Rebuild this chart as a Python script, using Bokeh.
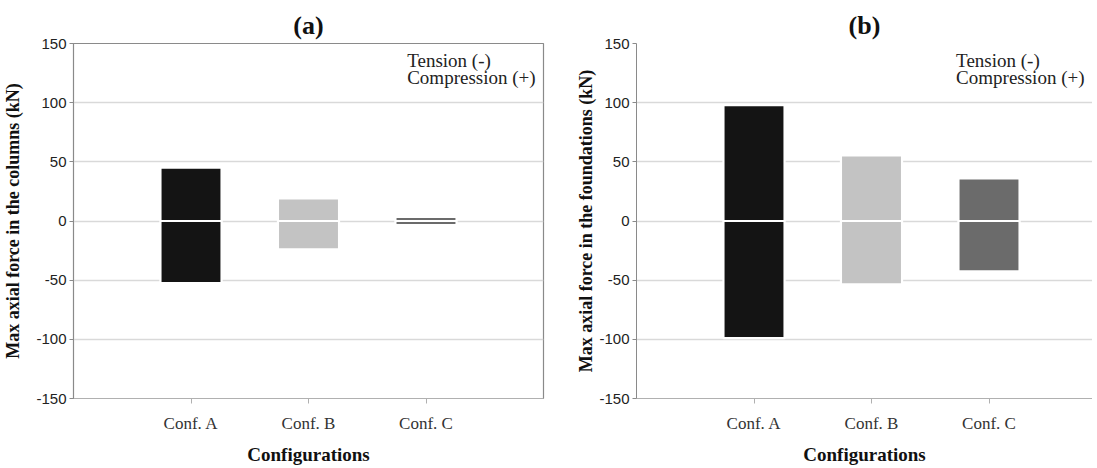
from bokeh.plotting import figure
from bokeh.layouts import row
from bokeh.models import Range1d, Label, ColumnDataSource
from bokeh.embed import file_html
from bokeh.resources import INLINE

categories = ["Conf. A", "Conf. B", "Conf. C"]
bar_colors = ["#141414", "#c3c3c3", "#6b6b6b"]
columns_compression = [45, 19, 3.5]
columns_tension = [-52.5, -24, -3.5]
foundations_compression = [98, 55.5, 36]
foundations_tension = [-99, -53.5, -42.5]
y_ticks = [-150, -100, -50, 0, 50, 100, 150]
note_lines = ["Tension (-)", "Compression (+)"]

SERIF = "Liberation Serif"
SANS = "Liberation Sans"


def make_panel(title, ylabel, comp, tens, x_end, frame_w, b_left, b_right,
               ylab_standoff, note_x, outline):
    xs = [i + 1 for i in range(len(categories))]
    src = ColumnDataSource(dict(x=xs, comp=comp, tens=tens,
                                zero=[0] * len(xs), color=bar_colors))
    p = figure(frame_width=frame_w, frame_height=355,
               x_range=Range1d(0, x_end), y_range=Range1d(-150, 150),
               output_backend="svg", toolbar_location=None,
               min_border_left=b_left, min_border_right=b_right,
               min_border_top=43, min_border_bottom=62)
    p.background_fill_color = "white"
    p.border_fill_color = "white"
    if outline:
        p.outline_line_color = "#8a8a8a"
        p.outline_line_width = 1.2
    else:
        p.outline_line_color = None

    p.title.text = title
    p.title.align = "center"
    p.title.text_font = SERIF
    p.title.text_font_style = "bold"
    p.title.text_font_size = "26px"
    p.title.text_color = "#111111"
    p.title.standoff = 8

    p.vbar(x="x", bottom="zero", top="comp", width=0.52, fill_color="color",
           line_color="white", line_width=2.2, source=src)
    p.vbar(x="x", bottom="tens", top="zero", width=0.52, fill_color="color",
           line_color="white", line_width=2.2, source=src)

    p.xgrid.visible = False
    p.ygrid.ticker = y_ticks
    p.ygrid.grid_line_color = "#d9d9d9"
    p.ygrid.grid_line_width = 1.5

    ya = p.yaxis[0]
    ya.ticker = y_ticks
    ya.major_label_overrides = {v: str(v) for v in y_ticks}
    ya.minor_tick_line_color = None
    ya.major_tick_in = 0
    ya.major_tick_out = 4
    ya.major_label_standoff = 3
    ya.axis_line_color = "#8a8a8a"
    ya.major_tick_line_color = "#8a8a8a"
    ya.major_label_text_font = SANS
    ya.major_label_text_font_size = "15px"
    ya.major_label_text_color = "#222222"
    ya.axis_label = ylabel
    ya.axis_label_text_font = SERIF
    ya.axis_label_text_font_style = "bold"
    ya.axis_label_text_font_size = "18px"
    ya.axis_label_text_color = "#111111"
    ya.axis_label_standoff = ylab_standoff

    xa = p.xaxis[0]
    xa.ticker = xs
    xa.major_label_overrides = {x: c for x, c in zip(xs, categories)}
    xa.minor_tick_line_color = None
    xa.major_tick_in = 0
    xa.major_tick_out = 5
    xa.major_label_standoff = 10
    xa.axis_line_color = "#b0b0b0"
    xa.major_tick_line_color = "#b0b0b0"
    xa.major_label_text_font = SERIF
    xa.major_label_text_font_size = "17px"
    xa.major_label_text_color = "#333333"
    xa.axis_label = "Configurations"
    xa.axis_label_text_font = SERIF
    xa.axis_label_text_font_style = "bold"
    xa.axis_label_text_font_size = "19px"
    xa.axis_label_text_color = "#111111"
    xa.axis_label_standoff = 8

    for txt, yv in zip(note_lines, [135.6, 121.5]):
        p.add_layout(Label(x=note_x, y=yv, text=txt, text_font=SERIF,
                           text_font_size="19px", text_baseline="middle",
                           text_color="#222222"))
    return p


pa = make_panel("(a)", "Max axial force in the columns (kN)",
                columns_compression, columns_tension,
                x_end=4.0, frame_w=470, b_left=62, b_right=10,
                ylab_standoff=10, note_x=2.84, outline=True)
pb = make_panel("(b)", "Max axial force in the foundations (kN)",
                foundations_compression, foundations_tension,
                x_end=456 / 117.5, frame_w=456, b_left=83, b_right=0,
                ylab_standoff=0, note_x=2.72, outline=False)

layout = row(pa, pb, spacing=0)
open("out.html", "w").write(file_html(layout, INLINE))
